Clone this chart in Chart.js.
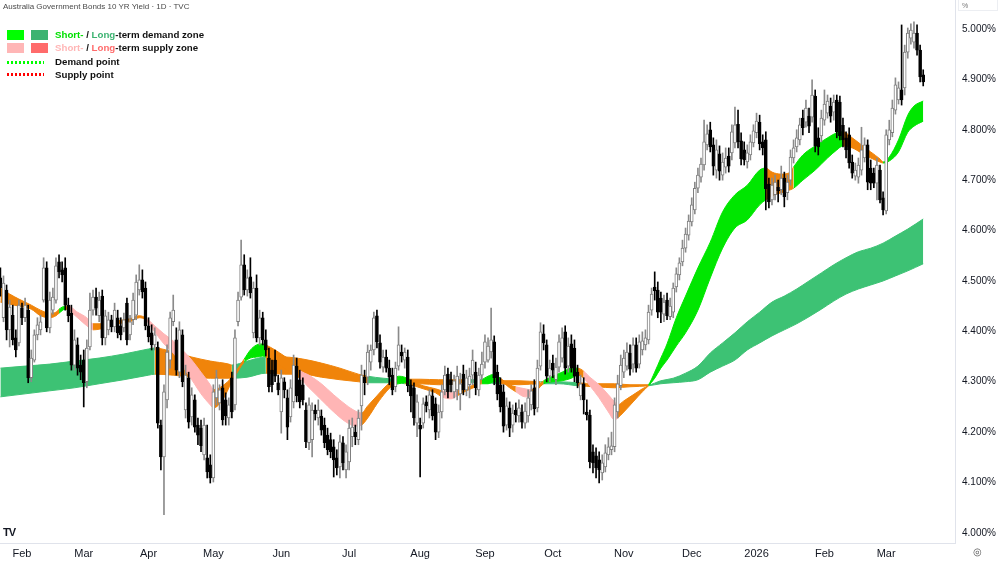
<!DOCTYPE html>
<html lang="en">
<head>
    <meta charset="UTF-8">
    <title>Australia Government Bonds 10 YR Yield</title>
    <script src="https://cdn.jsdelivr.net/npm/chart.js"></script>
    <style>
        body {
            margin: 0;
            background: #fff;
            font-family: 'Liberation Sans', Arial, sans-serif;
        }

        .wrap {
            position: relative;
            width: 1000px;
            height: 562px;
        }

        .title {
            position: absolute;
            left: 3px;
            top: 2px;
            font-size: 8px;
            color: #4a4a4a;
            white-space: nowrap;
        }

        .sw {
            position: absolute;
            width: 17px;
            height: 10px;
        }

        .dots {
            position: absolute;
            left: 7px;
            width: 37px;
            height: 3px;
        }

        .txt {
            position: absolute;
            left: 55px;
            font-size: 9.7px;
            font-weight: bold;
            line-height: 12px;
            color: #111;
            white-space: nowrap;
        }

        .pct {
            position: absolute;
            left: 958px;
            top: 0;
            width: 40px;
            height: 11px;
            border: 1px solid #eceef2;
            border-top: none;
            font-size: 7px;
            color: #777;
            line-height: 11px;
            padding-left: 3px;
            box-sizing: border-box;
        }

        .logo {
            position: absolute;
            left: 3px;
            top: 526px;
            font-size: 11px;
            font-weight: bold;
            letter-spacing: -1px;
            color: #131722;
        }

        .gear {
            position: absolute;
            left: 973px;
            top: 546px;
            font-size: 10px;
            color: #555;
        }
    </style>
</head>
<body>
<div class="wrap">
    <canvas id="chart" width="1000" height="562"></canvas>

    <div class="title">Australia Government Bonds 10 YR Yield · 1D · TVC</div>

    <div class="sw" style="left:7px;top:30px;background:#00ff00"></div>
    <div class="sw" style="left:31px;top:30px;background:#3cb371"></div>
    <div class="txt" style="top:29px"><span style="color:#00e000">Short-</span> / <span style="color:#3cb371">Long</span>-term demand zone</div>

    <div class="sw" style="left:7px;top:43px;background:#ffb6b6"></div>
    <div class="sw" style="left:31px;top:43px;background:#ff6b6b"></div>
    <div class="txt" style="top:42px"><span style="color:#ffb6b6">Short-</span> / <span style="color:#ff6b6b">Long</span>-term supply zone</div>

    <div class="dots" style="top:61px;background:repeating-linear-gradient(to right,#00ff00 0 2px,transparent 2px 4px)"></div>
    <div class="txt" style="top:56px">Demand point</div>

    <div class="dots" style="top:73px;background:repeating-linear-gradient(to right,#ff0000 0 2px,transparent 2px 4px)"></div>
    <div class="txt" style="top:69px">Supply point</div>

    <div class="pct">%</div>
    <div class="logo">TV</div>
    <div class="gear">◎</div>
</div>

<script>
    // x axis: one slot per trading day, month labels sit on the first bar of each month
    const months = ['Feb', 'Mar', 'Apr', 'May', 'Jun', 'Jul', 'Aug', 'Sep', 'Oct', 'Nov', 'Dec', '2026', 'Feb', 'Mar'];
    const monthBars = [7, 27, 48, 69, 91, 113, 136, 157, 179, 202, 224, 245, 267, 287];
    const yTicks = [4.0, 4.1, 4.2, 4.3, 4.4, 4.5, 4.6, 4.7, 4.8, 4.9, 5.0];

    // daily candles, yield in %
    const opens = [
        4.506,4.427,4.482,4.403,4.432,4.387,4.377,4.446,4.427,4.442,
        4.308,4.343,4.393,4.403,4.462,4.526,4.407,4.442,4.462,4.538,
        4.522,4.526,4.452,4.436,4.333,4.373,4.333,4.343,4.300,4.369,
        4.442,4.468,4.431,4.470,4.387,4.403,4.423,4.409,4.427,4.411,
        4.407,4.456,4.393,4.423,4.432,4.482,4.502,4.486,4.411,4.397,
        4.373,4.369,4.214,4.151,4.264,4.343,4.419,4.383,4.319,4.393,
        4.244,4.308,4.230,4.264,4.214,4.208,4.155,4.149,4.135,4.109,
        4.268,4.258,4.288,4.264,4.228,4.308,4.254,4.419,4.468,4.532,
        4.482,4.508,4.397,4.486,4.387,4.427,4.383,4.347,4.323,4.343,
        4.298,4.240,4.300,4.268,4.230,4.260,4.331,4.304,4.294,4.244,
        4.179,4.185,4.244,4.228,4.232,4.214,4.194,4.185,4.171,4.149,
        4.131,4.179,4.125,4.141,4.191,4.200,4.185,4.252,4.309,4.309,
        4.339,4.363,4.431,4.377,4.329,4.349,4.327,4.313,4.290,4.331,
        4.359,4.343,4.349,4.294,4.288,4.218,4.214,4.218,4.260,4.244,
        4.272,4.256,4.200,4.240,4.284,4.315,4.304,4.280,4.284,4.276,
        4.315,4.284,4.294,4.313,4.319,4.284,4.313,4.339,4.343,4.359,
        4.379,4.319,4.294,4.280,4.214,4.248,4.214,4.244,4.232,4.240,
        4.218,4.232,4.254,4.288,4.248,4.331,4.395,4.373,4.311,4.337,
        4.304,4.329,4.347,4.399,4.331,4.375,4.367,4.319,4.272,4.296,
        4.240,4.234,4.161,4.153,4.145,4.119,4.131,4.155,4.165,4.171,
        4.240,4.292,4.319,4.331,4.357,4.335,4.373,4.335,4.363,4.373,
        4.383,4.442,4.488,4.482,4.466,4.434,4.462,4.429,4.438,4.488,
        4.512,4.538,4.565,4.591,4.617,4.641,4.684,4.706,4.730,4.770,
        4.800,4.770,4.720,4.752,4.710,4.726,4.748,4.754,4.774,4.811,
        4.778,4.760,4.736,4.750,4.774,4.794,4.815,4.776,4.780,4.692,
        4.661,4.671,4.686,4.681,4.704,4.675,4.700,4.744,4.766,4.780,
        4.823,4.815,4.827,4.825,4.867,4.784,4.788,4.819,4.833,4.847,
        4.835,4.859,4.855,4.809,4.784,4.790,4.736,4.708,4.706,4.720,
        4.744,4.770,4.724,4.714,4.694,4.720,4.665,4.639,4.780,4.794,
        4.839,4.859,4.879,4.883,4.954,4.982,4.974,4.992,4.958,4.909
    ];
    const highs = [
        4.526,4.510,4.492,4.462,4.452,4.403,4.462,4.456,4.466,4.452,
        4.363,4.403,4.427,4.432,4.546,4.538,4.478,4.486,4.546,4.552,
        4.538,4.546,4.466,4.452,4.403,4.387,4.353,4.363,4.383,4.476,
        4.482,4.486,4.478,4.482,4.442,4.438,4.432,4.456,4.442,4.427,
        4.436,4.466,4.432,4.476,4.512,4.532,4.522,4.498,4.427,4.413,
        4.407,4.379,4.224,4.294,4.373,4.438,4.472,4.407,4.419,4.403,
        4.333,4.319,4.288,4.274,4.228,4.224,4.228,4.214,4.155,4.294,
        4.323,4.294,4.304,4.278,4.268,4.319,4.403,4.478,4.581,4.552,
        4.522,4.546,4.498,4.512,4.442,4.438,4.403,4.367,4.343,4.363,
        4.313,4.323,4.308,4.284,4.304,4.353,4.347,4.323,4.308,4.258,
        4.268,4.258,4.254,4.264,4.244,4.228,4.208,4.198,4.185,4.165,
        4.194,4.191,4.175,4.224,4.228,4.214,4.244,4.333,4.323,4.373,
        4.373,4.438,4.442,4.393,4.363,4.363,4.343,4.327,4.339,4.409,
        4.373,4.367,4.363,4.304,4.298,4.274,4.228,4.268,4.272,4.284,
        4.284,4.268,4.254,4.294,4.331,4.327,4.319,4.313,4.331,4.317,
        4.333,4.323,4.327,4.363,4.339,4.327,4.359,4.393,4.387,4.446,
        4.391,4.333,4.308,4.294,4.268,4.260,4.254,4.258,4.264,4.254,
        4.258,4.284,4.294,4.304,4.343,4.417,4.413,4.383,4.343,4.353,
        4.347,4.393,4.407,4.411,4.387,4.393,4.383,4.333,4.313,4.308,
        4.264,4.244,4.175,4.169,4.161,4.155,4.175,4.189,4.200,4.268,
        4.313,4.353,4.363,4.377,4.373,4.387,4.387,4.393,4.399,4.403,
        4.452,4.486,4.518,4.498,4.478,4.472,4.476,4.466,4.496,4.526,
        4.546,4.581,4.605,4.631,4.665,4.696,4.724,4.744,4.819,4.810,
        4.815,4.784,4.780,4.768,4.754,4.764,4.764,4.810,4.845,4.839,
        4.794,4.776,4.770,4.790,4.810,4.833,4.829,4.790,4.796,4.704,
        4.704,4.710,4.700,4.728,4.716,4.710,4.760,4.780,4.800,4.823,
        4.839,4.859,4.843,4.899,4.879,4.804,4.839,4.879,4.869,4.863,
        4.869,4.869,4.867,4.823,4.796,4.804,4.750,4.734,4.744,4.805,
        4.784,4.780,4.740,4.724,4.744,4.730,4.677,4.800,4.819,4.859,
        4.903,4.895,5.008,4.968,5.002,5.010,5.014,5.008,4.968,4.919
    ];
    const lows = [
        4.470,4.419,4.383,4.369,4.373,4.349,4.371,4.413,4.419,4.298,
        4.300,4.339,4.383,4.393,4.458,4.399,4.397,4.434,4.456,4.506,
        4.498,4.442,4.419,4.323,4.323,4.313,4.304,4.250,4.288,4.363,
        4.432,4.432,4.419,4.373,4.373,4.393,4.399,4.399,4.387,4.383,
        4.399,4.373,4.383,4.413,4.423,4.472,4.466,4.403,4.379,4.363,
        4.363,4.208,4.125,4.036,4.248,4.327,4.411,4.313,4.308,4.290,
        4.228,4.208,4.214,4.200,4.175,4.161,4.145,4.109,4.099,4.101,
        4.254,4.244,4.214,4.214,4.214,4.228,4.244,4.411,4.462,4.472,
        4.470,4.466,4.387,4.379,4.373,4.373,4.351,4.280,4.280,4.300,
        4.274,4.198,4.268,4.185,4.220,4.248,4.260,4.248,4.254,4.169,
        4.165,4.151,4.224,4.214,4.194,4.169,4.155,4.149,4.111,4.115,
        4.109,4.125,4.109,4.125,4.171,4.175,4.175,4.204,4.274,4.294,
        4.323,4.353,4.367,4.327,4.319,4.319,4.294,4.274,4.280,4.323,
        4.339,4.327,4.280,4.240,4.214,4.191,4.111,4.208,4.240,4.228,
        4.224,4.185,4.189,4.228,4.274,4.268,4.280,4.268,4.264,4.244,
        4.274,4.272,4.268,4.294,4.274,4.272,4.304,4.327,4.339,4.347,
        4.294,4.264,4.240,4.200,4.204,4.191,4.200,4.220,4.220,4.208,
        4.208,4.220,4.244,4.234,4.240,4.323,4.363,4.300,4.300,4.308,
        4.294,4.319,4.339,4.315,4.319,4.319,4.300,4.288,4.264,4.236,
        4.224,4.129,4.119,4.109,4.099,4.105,4.121,4.145,4.155,4.161,
        4.228,4.284,4.308,4.323,4.313,4.319,4.319,4.327,4.353,4.363,
        4.375,4.432,4.462,4.427,4.417,4.419,4.423,4.423,4.427,4.478,
        4.502,4.530,4.557,4.581,4.609,4.633,4.675,4.696,4.720,4.760,
        4.756,4.710,4.704,4.700,4.700,4.714,4.716,4.740,4.764,4.764,
        4.730,4.730,4.724,4.740,4.766,4.784,4.760,4.750,4.641,4.645,
        4.651,4.661,4.657,4.671,4.647,4.661,4.690,4.734,4.756,4.770,
        4.790,4.805,4.794,4.815,4.756,4.750,4.776,4.809,4.823,4.815,
        4.819,4.784,4.780,4.766,4.744,4.724,4.704,4.700,4.694,4.710,
        4.736,4.681,4.681,4.685,4.661,4.655,4.631,4.633,4.770,4.786,
        4.831,4.851,4.849,4.869,4.942,4.970,4.962,4.948,4.895,4.887
    ];
    const closes = [
        4.486,4.496,4.403,4.448,4.383,4.363,4.452,4.427,4.452,4.308,
        4.347,4.393,4.413,4.419,4.526,4.407,4.462,4.468,4.530,4.518,
        4.512,4.452,4.431,4.333,4.383,4.327,4.319,4.298,4.367,4.442,
        4.468,4.446,4.462,4.387,4.431,4.423,4.409,4.442,4.397,4.393,
        4.423,4.383,4.419,4.462,4.498,4.502,4.478,4.411,4.389,4.373,
        4.393,4.218,4.151,4.280,4.359,4.427,4.442,4.323,4.403,4.300,
        4.313,4.220,4.274,4.210,4.194,4.173,4.214,4.121,4.109,4.280,
        4.308,4.284,4.224,4.232,4.254,4.240,4.387,4.462,4.532,4.482,
        4.506,4.476,4.486,4.387,4.427,4.383,4.363,4.290,4.294,4.311,
        4.284,4.308,4.284,4.210,4.288,4.333,4.272,4.260,4.264,4.181,
        4.254,4.244,4.236,4.244,4.204,4.179,4.165,4.161,4.145,4.129,
        4.181,4.139,4.161,4.208,4.210,4.191,4.228,4.313,4.298,4.359,
        4.363,4.427,4.379,4.339,4.349,4.327,4.309,4.284,4.327,4.373,
        4.351,4.359,4.292,4.272,4.228,4.260,4.206,4.256,4.252,4.274,
        4.232,4.200,4.240,4.280,4.313,4.280,4.294,4.302,4.311,4.296,
        4.284,4.308,4.311,4.343,4.288,4.313,4.335,4.379,4.371,4.383,
        4.308,4.276,4.250,4.212,4.252,4.208,4.238,4.234,4.248,4.220,
        4.242,4.268,4.282,4.246,4.327,4.399,4.377,4.311,4.327,4.323,
        4.329,4.379,4.387,4.327,4.371,4.327,4.311,4.298,4.296,4.264,
        4.234,4.141,4.139,4.129,4.125,4.139,4.159,4.171,4.173,4.254,
        4.296,4.333,4.347,4.359,4.325,4.373,4.327,4.379,4.381,4.387,
        4.438,4.474,4.480,4.438,4.438,4.458,4.431,4.450,4.486,4.514,
        4.536,4.565,4.593,4.619,4.651,4.684,4.710,4.732,4.776,4.792,
        4.766,4.728,4.760,4.718,4.736,4.744,4.728,4.796,4.810,4.776,
        4.742,4.740,4.754,4.776,4.798,4.817,4.772,4.764,4.683,4.657,
        4.690,4.696,4.679,4.704,4.667,4.696,4.746,4.764,4.784,4.810,
        4.804,4.843,4.807,4.869,4.768,4.766,4.823,4.851,4.857,4.827,
        4.855,4.796,4.788,4.780,4.760,4.734,4.714,4.720,4.730,4.760,
        4.770,4.696,4.694,4.694,4.730,4.661,4.641,4.790,4.800,4.843,
        4.889,4.883,4.859,4.954,4.992,4.998,4.992,4.958,4.905,4.895
    ];

    // short-term zone: edges read every few bars, zone code per segment
    // g = demand (lime), p = supply (pink), o = neutral (orange)
    const stBar = [0,3,6,10,13,16,18,19,21,22,25,28,30,34,38,42,45,47,50,53,
        56,59,62,65,68,69,72,75,77,79,81,83,85,86,89,92,95,97,100,104,
        108,112,115,117,119,122,125,127,129,131,133,137,141,143,146,148,151,154,156,158,
        160,162,165,167,170,172,174,176,179,182,185,187,189,191,194,197,199,200,202,205,
        208,210,212,214,216,219,222,226,230,234,238,242,246,248,250,253,256,257,260,264,
        268,271,273,276,279,282,285,286,288,291,294,296,299];
    const stUpper = [4.486,4.474,4.464,4.452,4.442,4.436,4.438,4.444,4.450,4.450,4.438,4.427,4.415,4.415,4.421,4.425,4.431,4.427,4.411,4.395,
        4.381,4.363,4.343,4.319,4.294,4.284,4.292,4.309,4.327,4.345,4.363,4.373,4.375,4.373,4.363,4.351,4.339,4.323,4.313,4.296,
        4.274,4.254,4.242,4.238,4.252,4.272,4.292,4.302,4.311,4.309,4.302,4.292,4.286,4.282,4.278,4.282,4.288,4.296,4.304,4.311,
        4.315,4.307,4.294,4.290,4.286,4.284,4.292,4.302,4.311,4.319,4.327,4.327,4.321,4.309,4.294,4.274,4.260,4.254,4.262,4.274,
        4.286,4.294,4.319,4.347,4.375,4.427,4.470,4.526,4.577,4.637,4.671,4.690,4.720,4.724,4.716,4.712,4.716,4.726,4.750,4.768,
        4.784,4.794,4.796,4.784,4.770,4.756,4.742,4.736,4.746,4.780,4.829,4.847,4.857];
    const stLower = [4.458,4.454,4.450,4.444,4.431,4.427,4.431,4.436,4.444,4.442,4.427,4.411,4.403,4.407,4.415,4.419,4.427,4.423,4.399,4.375,
        4.357,4.331,4.304,4.276,4.254,4.248,4.264,4.300,4.321,4.339,4.347,4.349,4.351,4.349,4.339,4.327,4.315,4.307,4.288,4.264,
        4.240,4.220,4.212,4.214,4.228,4.256,4.280,4.292,4.296,4.298,4.294,4.286,4.278,4.270,4.266,4.272,4.282,4.290,4.296,4.296,
        4.300,4.300,4.288,4.280,4.270,4.272,4.284,4.296,4.300,4.302,4.307,4.313,4.307,4.292,4.268,4.240,4.224,4.228,4.240,4.260,
        4.280,4.292,4.307,4.327,4.343,4.371,4.397,4.442,4.506,4.565,4.605,4.621,4.651,4.661,4.669,4.675,4.681,4.684,4.700,4.720,
        4.744,4.760,4.768,4.764,4.754,4.744,4.736,4.734,4.738,4.756,4.795,4.807,4.817];
    const stZone = 'ooooooogop' + 'ppoooooppp' + 'pppppoooog' + 'gggooooppp' + 'pppooooggg' +
        'oooppooogg' + 'gooppooggg' + 'gopppppooo' + 'oggggggggg' + 'gggooooggg' + 'ggoooooggg' + 'ggg';

    // long-term zone: G = demand (dark green), o = neutral (orange)
    const ltBar = [0,8,16,24,32,40,48,50,56,62,68,74,75,80,86,92,98,104,110,116,
        119,124,129,131,136,142,148,150,156,162,168,175,181,187,193,199,204,210,214,218,
        222,226,230,234,238,242,246,250,254,258,262,266,270,274,278,282,286,290,294,299];
    const ltUpper = [4.327,4.331,4.335,4.341,4.347,4.355,4.365,4.367,4.359,4.349,4.341,4.335,4.333,4.341,4.349,4.349,4.345,4.337,4.327,4.315,
        4.311,4.307,4.305,4.305,4.305,4.304,4.304,4.304,4.304,4.302,4.302,4.300,4.300,4.298,4.296,4.296,4.294,4.294,4.302,4.307,
        4.317,4.331,4.357,4.377,4.397,4.419,4.438,4.458,4.470,4.484,4.500,4.516,4.532,4.546,4.558,4.565,4.575,4.589,4.603,4.623];
    const ltLower = [4.270,4.276,4.282,4.288,4.296,4.304,4.313,4.315,4.313,4.309,4.307,4.307,4.307,4.309,4.317,4.315,4.315,4.309,4.304,4.300,
        4.298,4.298,4.298,4.296,4.296,4.294,4.296,4.298,4.298,4.296,4.294,4.296,4.296,4.292,4.290,4.288,4.290,4.292,4.296,4.298,
        4.300,4.304,4.319,4.331,4.343,4.363,4.377,4.391,4.403,4.415,4.429,4.444,4.460,4.474,4.484,4.492,4.500,4.510,4.520,4.534];
    const ltZone = 'GGGGGGGooo' + 'ooGGoooooo' + 'GGGooooGGo' + 'oGGooooGGG' + 'GGGGGGGGGG' + 'GGGGGGGGGG';

    const zoneColor = { g: '#00e600', p: '#ffb5b5', o: '#f0840a', G: '#3dc274' };

    const isUp = closes.map((c, i) => c >= opens[i]);
    const bodies = opens.map((o, i) => ({ x: i, y: [Math.min(o, closes[i]), Math.max(o, closes[i])] }));
    const wicks = highs.map((h, i) => ({ x: i, y: [lows[i], h] }));

    function edge(bars, vals) {
        return bars.map((b, k) => ({ x: b, y: vals[k] }));
    }

    function zoneLine(bars, vals, zone, fill, order) {
        const col = c => zoneColor[zone[c.p0DataIndex]];
        return {
            type: 'line',
            data: edge(bars, vals),
            borderWidth: 1,
            borderColor: zoneColor[zone[0]],
            backgroundColor: zoneColor[zone[0]],
            pointRadius: 0,
            cubicInterpolationMode: 'monotone',
            fill: fill,
            segment: { borderColor: col, backgroundColor: col },
            order: order
        };
    }

    new Chart(document.getElementById('chart'), {
        type: 'bar',
        data: {
            datasets: [
                zoneLine(ltBar, ltUpper, ltZone, false, 4),
                zoneLine(ltBar, ltLower, ltZone, '-1', 4),
                zoneLine(stBar, stUpper, stZone, false, 3),
                zoneLine(stBar, stLower, stZone, '-1', 3),
                {
                    data: wicks,
                    grouped: false,
                    barThickness: 1,
                    backgroundColor: isUp.map(u => u ? '#8a8a8a' : '#000000'),
                    borderWidth: 0,
                    order: 2
                },
                {
                    data: bodies,
                    grouped: false,
                    barThickness: 3,
                    minBarLength: 1,
                    backgroundColor: isUp.map(u => u ? '#ffffff' : '#000000'),
                    borderColor: isUp.map(u => u ? '#7d7d7d' : '#000000'),
                    borderWidth: 1,
                    borderSkipped: false,
                    order: 1
                }
            ]
        },
        options: {
            responsive: false,
            animation: false,
            layout: { padding: 0 },
            plugins: {
                legend: { display: false },
                tooltip: { enabled: false }
            },
            scales: {
                x: {
                    type: 'linear',
                    min: -0.13,
                    max: 309.3,
                    offset: false,
                    grid: { display: false, drawTicks: false },
                    border: { color: '#e0e3eb' },
                    ticks: {
                        autoSkip: false,
                        maxRotation: 0,
                        minRotation: 0,
                        padding: 4,
                        color: '#131722',
                        font: { family: "'Liberation Sans', Arial, sans-serif", size: 11 },
                        callback: (v, i) => months[i]
                    },
                    afterBuildTicks: s => { s.ticks = monthBars.map(v => ({ value: v })); },
                    afterFit: s => { s.height = 19; s.paddingLeft = 0; s.paddingRight = 0; }
                },
                y: {
                    position: 'right',
                    min: 3.98,
                    max: 5.0575,
                    grid: { display: false, drawTicks: false },
                    border: { color: '#e0e3eb' },
                    ticks: {
                        padding: 7,
                        color: '#131722',
                        font: { family: "'Liberation Sans', Arial, sans-serif", size: 10 },
                        callback: v => v.toFixed(3) + '%'
                    },
                    afterBuildTicks: s => { s.ticks = yTicks.map(v => ({ value: v })); },
                    afterFit: s => { s.width = 45; s.paddingTop = 0; s.paddingBottom = 0; }
                }
            }
        }
    });
</script>
</body>
</html>
